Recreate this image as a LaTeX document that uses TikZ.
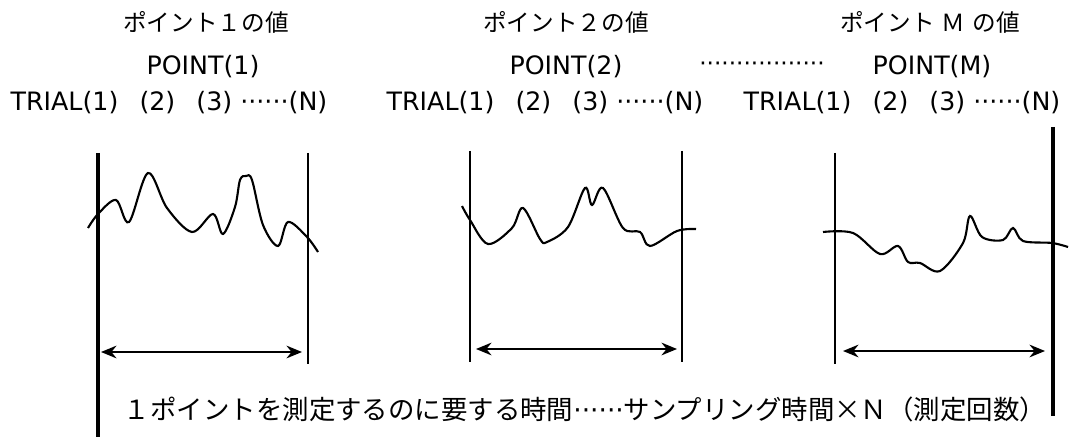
\documentclass[tikz,border=0pt]{standalone}
\usepackage{fontspec}
\setmainfont{DejaVu Sans}
\newfontfamily\jpfont{Noto Sans CJK JP}[CharacterWidth=Full]
\newfontfamily\latinfont{DejaVu Sans}
\usetikzlibrary{arrows.meta}

\begin{document}
\begin{tikzpicture}[x=0.025cm,y=-0.025cm,>={Stealth[length=11pt,width=9pt]},
    jtitle/.style={font=\jpfont\fontsize{16.8}{20}\selectfont,inner sep=0pt},
    jcap/.style={font=\jpfont\fontsize{18.8}{22}\selectfont,inner sep=0pt},
    lbl/.style={font=\fontsize{18}{22}\selectfont,inner sep=0pt},
    wall/.style={line width=1.4pt},
    bold wall/.style={line width=2.8pt},
    wave/.style={line width=1.5pt},
    span/.style={<->,line width=1.5pt}]
  \useasboundingbox (0,0) rectangle (1084,439);
  % headings
  \node[jtitle] (h1) at (206,22) {ポイント１の値};
  \node[jtitle] (h2) at (566,22) {ポイント２の値};
  \node[jtitle] (hM) at (930,22) {ポイント\hspace{5pt}Ｍ\hspace{5pt}の値};
  \node[lbl] (p1) at (203,67) {POINT(1)};
  \node[lbl] (p2) at (566,67) {POINT(2)};
  \node[lbl,font=\fontsize{16.5}{20}\selectfont] (pdots) at (762,67) {·················};
  \node[lbl] (pM) at (932,67) {POINT(M)};
  \node[lbl] (t1) at (169,103) {TRIAL(1)\hspace{15pt}(2)\hspace{15pt}(3) ······(N)};
  \node[lbl] (t2) at (545,103) {TRIAL(1)\hspace{15pt}(2)\hspace{15pt}(3) ······(N)};
  \node[lbl] (tM) at (902,103) {TRIAL(1)\hspace{15pt}(2)\hspace{15pt}(3) ······(N)};
  % boundaries
  \draw[bold wall] (98,153) -- (98,437);
  \draw[wall] (308,153) -- (308,364);
  \draw[wall] (470,151) -- (470,362);
  \draw[wall] (682,151) -- (682,362);
  \draw[wall] (835,153) -- (835,364);
  \draw[bold wall] (1053,127) -- (1053,416);
  % measured values
  \draw[wave] plot[smooth,tension=0.55] coordinates {(88,228) (98,214) (116,200) (129,222)
    (148,173) (167,208) (192,232) (213,214) (223,234) (235,207) (240,180) (246,176)
    (252,180) (263,225) (278,246) (288,222) (307,237) (318,252)};
  \draw[wave] plot[smooth,tension=0.55] coordinates {(462,206) (470,220) (488,244) (512,228)
    (523,208) (540,239) (547,242) (568,227) (585,188) (592,205) (603,188) (623,228)
    (640,232) (650,246) (677,231) (696,229)};
  \draw[wave] plot[smooth,tension=0.55] coordinates {(823,232) (853,233) (880,254) (898,246)
    (908,262) (920,263) (940,271) (963,243) (970,216) (982,237) (1003,240) (1013,228)
    (1023,241) (1052,243) (1068,247)};
  % time spans
  \coordinate (a1) at (101,352);
  \coordinate (b1) at (302,352);
  \coordinate (a2) at (476,349);
  \coordinate (b2) at (677,349);
  \coordinate (aM) at (843,351);
  \coordinate (bM) at (1045,351);
  \draw[span] (a1) -- (b1);
  \draw[span] (a2) -- (b2);
  \draw[span] (aM) -- (bM);
  \node[jcap] (cap) at (585,409) {１ポイントを測定するのに要する時間{\latinfont ······}サンプリング時間×Ｎ（測定回数）};
\end{tikzpicture}
\end{document}
